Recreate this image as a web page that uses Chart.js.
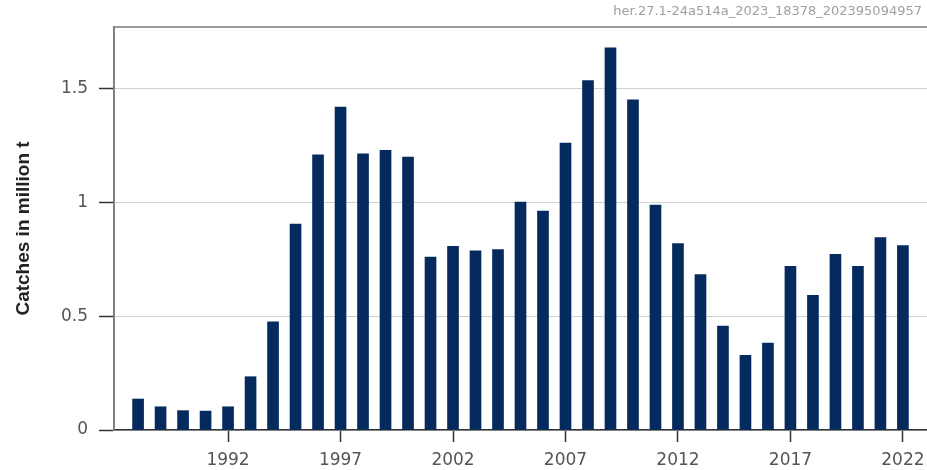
<!DOCTYPE html>
<html>
<head>
<meta charset="utf-8">
<script src="https://cdn.jsdelivr.net/npm/chart.js@4.4.0/dist/chart.umd.min.js"></script>
<style>
  html, body { margin: 0; padding: 0; background: #ffffff; }
  #wrap { width: 927px; height: 470px; }
</style>
</head>
<body>
<div id="wrap"><canvas id="catches" width="927" height="470"></canvas></div>
<script>
// herring catches, million tonnes
let years = [1988, 1989, 1990, 1991, 1992, 1993, 1994, 1995, 1996, 1997,
             1998, 1999, 2000, 2001, 2002, 2003, 2004, 2005, 2006, 2007,
             2008, 2009, 2010, 2011, 2012, 2013, 2014, 2015, 2016, 2017,
             2018, 2019, 2020, 2021, 2022];
let catches = [0.136, 0.102, 0.085, 0.083, 0.102, 0.234, 0.475, 0.904, 1.209, 1.418,
               1.213, 1.228, 1.199, 0.760, 0.807, 0.787, 0.792, 1.001, 0.962, 1.260,
               1.535, 1.678, 1.450, 0.988, 0.819, 0.683, 0.456, 0.328, 0.382, 0.719,
               0.592, 0.772, 0.719, 0.845, 0.810];
let xTicks = [1992, 1997, 2002, 2007, 2012, 2017, 2022];
let yTicks = [0, 0.5, 1, 1.5];
let stockCode = "her.27.1-24a514a_2023_18378_202395094957";

let frame = {
    id: 'frame',
    afterDraw(chart) {
        let ctx = chart.ctx;
        let a = chart.chartArea;
        ctx.save();
        ctx.strokeStyle = '#7a7a7a';
        ctx.lineWidth = 1.5;
        ctx.beginPath();
        ctx.moveTo(a.left, a.bottom);
        ctx.lineTo(a.left, a.top);
        ctx.lineTo(chart.width, a.top);
        ctx.stroke();
        ctx.fillStyle = '#a0a0a0';
        ctx.font = '13px "DejaVu Sans"';
        ctx.textAlign = 'right';
        ctx.textBaseline = 'middle';
        ctx.fillText(stockCode, 922, 12);
        ctx.restore();
    }
};

let bars = new Chart(document.getElementById("catches"), {
    type: 'bar',
    data: {
        datasets: [{
            label: "Catches",
            data: years.map((y, i) => ({ x: y, y: catches[i] })),
            backgroundColor: "#042a5e",
            barThickness: 11
        }]
    },
    options: {
        responsive: false,
        animation: false,
        layout: {
            padding: { top: 27, left: 0, right: 0, bottom: 0 }
        },
        plugins: {
            legend: { display: false },
            tooltip: { enabled: false }
        },
        scales: {
            x: {
                type: 'linear',
                offset: false,
                min: 1986.93,
                max: 2023.07,
                afterBuildTicks: (s) => { s.ticks = xTicks.map(v => ({ value: v })); },
                afterFit: (s) => { s.height = 40; s.paddingLeft = 0; s.paddingRight = 0; },
                grid: {
                    offset: false,
                    drawOnChartArea: false,
                    tickLength: 12,
                    tickColor: '#333',
                    tickWidth: 1.5
                },
                border: { color: '#333', width: 1.5 },
                ticks: {
                    callback: (v) => String(v),
                    color: '#555',
                    font: { family: 'DejaVu Sans', size: 17 },
                    padding: 8,
                    maxRotation: 0
                }
            },
            y: {
                min: 0,
                max: 1.77,
                afterBuildTicks: (s) => { s.ticks = yTicks.map(v => ({ value: v })); },
                afterFit: (s) => { s.width = 114; s.paddingTop = 0; s.paddingBottom = 0; },
                grid: {
                    color: '#d0d0d0',
                    tickColor: '#333',
                    tickLength: 15,
                    tickWidth: 1.5
                },
                border: { color: '#7a7a7a', width: 1.5 },
                ticks: {
                    callback: (v) => String(v),
                    color: '#555',
                    font: { family: 'DejaVu Sans', size: 17 },
                    padding: 11
                },
                title: {
                    display: true,
                    text: 'Catches in million t',
                    color: '#222',
                    font: { family: 'Liberation Sans', size: 19, weight: 'bold' },
                    padding: { top: 12, bottom: 0 }
                }
            }
        }
    },
    plugins: [frame]
});
</script>
</body>
</html>
